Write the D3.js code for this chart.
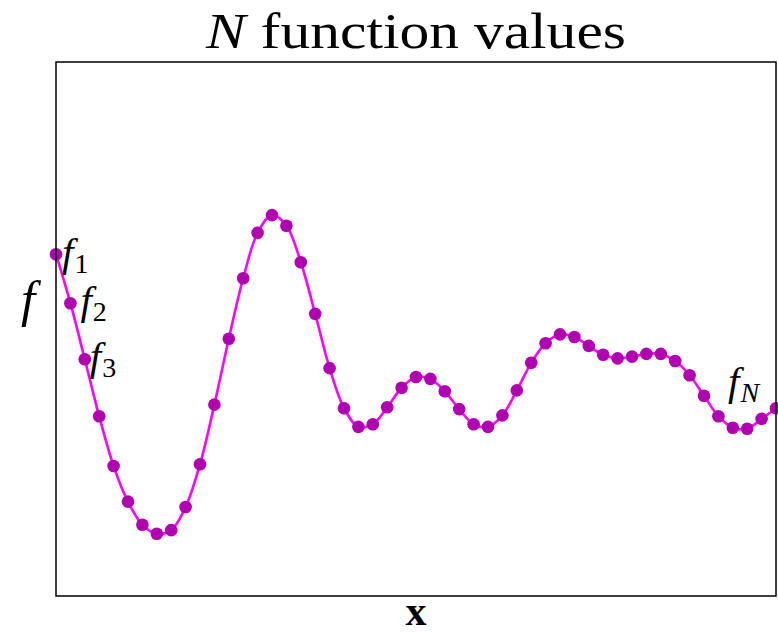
<!DOCTYPE html>
<html>
<head>
<meta charset="utf-8">
<script src="https://cdn.jsdelivr.net/npm/d3@7/dist/d3.min.js"></script>
<style>
  html, body { margin: 0; padding: 0; background: #fff; }
  svg { display: block; }
  text { font-family: "Liberation Serif", "DejaVu Serif", serif; fill: #000; }
</style>
</head>
<body>
<svg id="chart" width="778" height="634"></svg>
<script>
// Sample positions (fraction of the interval) and the sampled function values
const sampleX = d3.range(51).map(i => i / 50);
const sampleF = [
   0.84,  0.29, -0.34, -0.98, -1.54, -1.94, -2.20, -2.30, -2.26, -2.00,
  -1.52, -0.85, -0.11,  0.57,  1.08,  1.28,  1.16,  0.75,  0.17, -0.44,
  -0.89, -1.10, -1.07, -0.88, -0.66, -0.54, -0.56, -0.70, -0.90, -1.07,
  -1.10, -0.97, -0.69, -0.38, -0.16, -0.06, -0.09, -0.19, -0.29, -0.33,
  -0.31, -0.28, -0.28, -0.36, -0.52, -0.75, -0.98, -1.11, -1.12, -1.01,
  -0.89
];
// Annotated samples: index into the arrays above and subscript text
const labelIndex = [0, 1, 2, 50];
const labelSub = ["1", "2", "3", "N"];

const svg = d3.select("#chart");
const frame = { left: 56, right: 776, top: 62, bottom: 596 };

const x = d3.scaleLinear().domain([0, 1]).range([frame.left, frame.right]);
const y = d3.scaleLinear().domain([-3, 3]).range([frame.bottom, frame.top]);

const pts = sampleX.map((v, i) => [v, sampleF[i]]);

// Smooth curve through the samples
const line = d3.line()
  .x(d => x(d[0]))
  .y(d => y(d[1]))
  .curve(d3.curveCatmullRom.alpha(0.5));

svg.append("path")
  .attr("d", line(pts))
  .attr("fill", "none")
  .attr("stroke", "#ff00ff")
  .attr("stroke-width", 2.6);

// Sample markers
svg.append("g").selectAll("circle")
  .data(pts)
  .join("circle")
  .attr("cx", d => x(d[0]))
  .attr("cy", d => y(d[1]))
  .attr("r", 6.3)
  .attr("fill", "#b000b0");

// Plot frame
svg.append("rect")
  .attr("x", frame.left)
  .attr("y", frame.top)
  .attr("width", frame.right - frame.left)
  .attr("height", frame.bottom - frame.top)
  .attr("fill", "none")
  .attr("stroke", "#000")
  .attr("stroke-width", 1.5);

// Labels f_i next to the first samples and f_N near the end
const labelOffset = [[6, 12], [10, 11], [5, 11], [-48, -13]];
labelIndex.forEach((idx, k) => {
  const t = svg.append("text")
    .attr("x", x(sampleX[idx]) + labelOffset[k][0])
    .attr("y", y(sampleF[idx]) + labelOffset[k][1])
    .style("font-size", "41px");
  t.append("tspan").style("font-style", "italic").text("f");
  t.append("tspan")
    .attr("dx", 1)
    .attr("dy", 7)
    .style("font-size", "28px")
    .style("font-style", labelSub[k] === "N" ? "italic" : "normal")
    .text(labelSub[k]);
});

// Axis labels
svg.append("text")
  .attr("x", 28)
  .attr("y", 316)
  .attr("text-anchor", "middle")
  .style("font-size", "51px")
  .style("font-style", "italic")
  .text("f");

svg.append("text")
  .attr("x", 416)
  .attr("y", 624.5)
  .attr("text-anchor", "middle")
  .style("font-size", "42px")
  .style("font-weight", "bold")
  .text("x");

// Title
const title = svg.append("text")
  .attr("x", 416)
  .attr("y", 48)
  .attr("text-anchor", "middle")
  .attr("textLength", 420)
  .attr("lengthAdjust", "spacingAndGlyphs")
  .style("font-size", "50px");
title.append("tspan").style("font-style", "italic").text("N");
title.append("tspan").text(" function values");
</script>
</body>
</html>
